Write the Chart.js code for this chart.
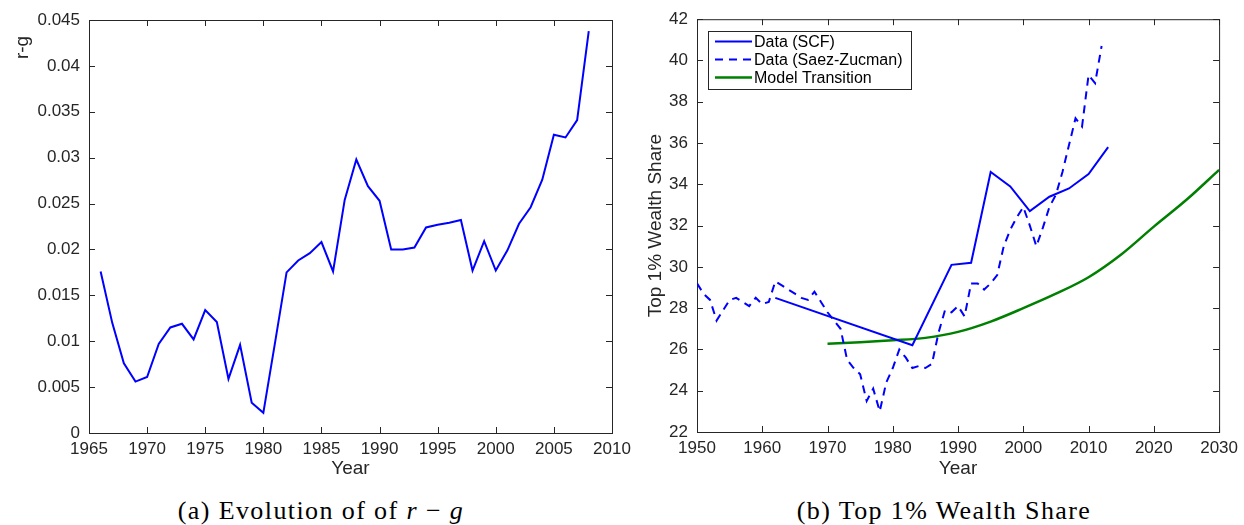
<!DOCTYPE html>
<html>
<head>
<meta charset="utf-8">
<script src="https://cdn.jsdelivr.net/npm/chart.js@4.4.1/dist/chart.umd.min.js"></script>
<style>
  body { margin: 0; background: #fff; width: 1244px; height: 525px; position: relative; overflow: hidden; }
  .panel { position: absolute; top: 0; height: 480px; }
  .caption { position: absolute; top: 496px; font-family: "Liberation Serif", serif; font-size: 26px;
             letter-spacing: 1.4px; color: #000; white-space: nowrap; transform: translateX(-50%); }
</style>
</head>
<body>
<div class="panel" style="left:0;width:640px"><canvas id="rgChart"></canvas></div>
<div class="panel" style="left:610px;width:634px"><canvas id="shareChart"></canvas></div>
<div class="caption" style="left:321px">(a) Evolution of of <i>r</i> &minus; <i>g</i></div>
<div class="caption" style="left:944px">(b) Top 1% Wealth Share</div>

<script>
// panel (a): r - g by year
const rgYears = [1966, 1967, 1968, 1969, 1970, 1971, 1972, 1973, 1974, 1975, 1976, 1977, 1978, 1979, 1980,
  1981, 1982, 1983, 1984, 1985, 1986, 1987, 1988, 1989, 1990, 1991, 1992, 1993, 1994, 1995, 1996, 1997,
  1998, 1999, 2000, 2001, 2002, 2003, 2004, 2005, 2006, 2007, 2008];
const rgValues = [0.0176, 0.0120, 0.0076, 0.0056, 0.0061, 0.0097, 0.0115, 0.0119, 0.0102, 0.0134, 0.0121,
  0.0059, 0.0096, 0.0033, 0.0022, 0.0098, 0.0175, 0.0188, 0.0196, 0.0208, 0.0176, 0.0254, 0.0298, 0.0269,
  0.0253, 0.0200, 0.0200, 0.0202, 0.0224, 0.0227, 0.0229, 0.0232, 0.0177, 0.0209, 0.0177, 0.0199, 0.0228,
  0.0246, 0.0276, 0.0325, 0.0322, 0.0341, 0.0438];

// panel (b): top 1% wealth share
const scfYears = [1962, 1983, 1989, 1992, 1995, 1998, 2001, 2004, 2007, 2010, 2013];
const scfValues = [28.5, 26.2, 30.1, 30.2, 34.6, 33.9, 32.7, 33.4, 33.8, 34.5, 35.8];

const szYears = [1950, 1951, 1952, 1953, 1954, 1955, 1956, 1957, 1958, 1959, 1960, 1961, 1962, 1963, 1964,
  1965, 1966, 1967, 1968, 1969, 1970, 1971, 1972, 1973, 1974, 1975, 1976, 1977, 1978, 1979, 1980, 1981,
  1982, 1983, 1984, 1985, 1986, 1987, 1988, 1989, 1990, 1991, 1992, 1993, 1994, 1995, 1996, 1997, 1998,
  1999, 2000, 2001, 2002, 2003, 2004, 2005, 2006, 2007, 2008, 2009, 2010, 2011, 2012];
const szValues = [29.2, 28.7, 28.4, 27.4, 27.9, 28.4, 28.5, 28.3, 28.1, 28.5, 28.2, 28.3, 29.3, 29.1, 28.9,
  28.7, 28.5, 28.4, 28.8, 28.3, 27.8, 27.4, 27.0, 25.5, 25.1, 24.8, 23.5, 24.1, 23.0, 24.4, 25.1, 26.0,
  25.6, 25.1, 25.2, 25.1, 25.3, 26.8, 27.9, 27.8, 28.1, 27.6, 29.2, 29.2, 28.9, 29.2, 29.6, 31.0, 31.8,
  32.4, 32.9, 32.0, 31.0, 31.9, 32.9, 33.5, 34.6, 35.9, 37.2, 36.8, 39.3, 38.9, 40.7];

const modelYears = [1970, 1975, 1980, 1985, 1990, 1995, 2000, 2005, 2010, 2015, 2020, 2025, 2030];
const modelValues = [26.28, 26.35, 26.44, 26.56, 26.85, 27.35, 28.0, 28.7, 29.5, 30.6, 31.95, 33.25, 34.7];

const axisColor = '#262626';
const tickFont = { family: '"Liberation Sans", Arial, sans-serif', size: 17 };
const titleFont = { family: '"Liberation Sans", Arial, sans-serif', size: 19 };

function toPoints(xs, ys) {
  return xs.map((x, i) => ({ x: x, y: ys[i] }));
}

// MATLAB style box with inward tick marks on all four sides
const matlabBox = {
  id: 'matlabBox',
  beforeDatasetsDraw(chart) {
    const { ctx, chartArea: a, scales: { x, y } } = chart;
    const len = 6;
    ctx.save();
    ctx.strokeStyle = axisColor;
    ctx.lineWidth = 1;
    ctx.strokeRect(a.left + 0.5, a.top + 0.5, a.right - a.left, a.bottom - a.top);
    ctx.beginPath();
    x.ticks.forEach(t => {
      const px = Math.round(x.getPixelForValue(t.value)) + 0.5;
      ctx.moveTo(px, a.bottom); ctx.lineTo(px, a.bottom - len);
      ctx.moveTo(px, a.top); ctx.lineTo(px, a.top + len);
    });
    y.ticks.forEach(t => {
      const py = Math.round(y.getPixelForValue(t.value)) + 0.5;
      ctx.moveTo(a.left, py); ctx.lineTo(a.left + len, py);
      ctx.moveTo(a.right, py); ctx.lineTo(a.right - len, py);
    });
    ctx.stroke();
    ctx.restore();
  }
};

// boxed legend in the upper left corner of panel (b)
const boxLegend = {
  id: 'boxLegend',
  afterDraw(chart) {
    const ctx = chart.ctx;
    const bx = 98, by = 31, bw = 203, bh = 58;
    ctx.save();
    ctx.fillStyle = '#fff';
    ctx.fillRect(bx, by, bw, bh);
    ctx.strokeStyle = axisColor;
    ctx.lineWidth = 1;
    ctx.strokeRect(bx + 0.5, by + 0.5, bw, bh);
    ctx.font = '16px "Liberation Sans", Arial, sans-serif';
    ctx.textBaseline = 'middle';
    chart.data.datasets.forEach((ds, i) => {
      const ry = by + 10.5 + i * 18;
      ctx.strokeStyle = ds.borderColor;
      ctx.lineWidth = ds.borderWidth;
      ctx.setLineDash(ds.borderDash || []);
      ctx.beginPath();
      ctx.moveTo(bx + 7, ry); ctx.lineTo(bx + 44, ry);
      ctx.stroke();
      ctx.setLineDash([]);
      ctx.fillStyle = '#000';
      ctx.fillText(ds.label, bx + 46, ry + 1);
    });
    ctx.restore();
  }
};

function fixWidth(w) { return scale => { scale.width = w; }; }
function fixHeight(h) { return scale => { scale.height = h; }; }

Chart.defaults.color = axisColor;
Chart.defaults.animation = false;

new Chart(document.getElementById('rgChart'), {
  type: 'line',
  data: {
    datasets: [{
      label: 'r-g',
      data: toPoints(rgYears, rgValues),
      borderColor: '#0000ff',
      borderWidth: 2,
      pointRadius: 0,
      tension: 0
    }]
  },
  options: {
    responsive: true,
    maintainAspectRatio: false,
    layout: { padding: { top: 20, right: 28, bottom: 0, left: 0 } },
    plugins: { legend: { display: false }, tooltip: { enabled: false } },
    scales: {
      x: {
        type: 'linear', min: 1965, max: 2010,
        afterFit: fixHeight(47),
        grid: { display: false, drawTicks: false },
        border: { display: false },
        ticks: { stepSize: 5, padding: 6, font: tickFont, color: axisColor, maxRotation: 0,
                 callback: v => String(v) },
        title: { display: true, text: 'Year', font: titleFont, color: axisColor, padding: { top: 0, bottom: 0 } }
      },
      y: {
        type: 'linear', min: 0, max: 0.045,
        afterFit: fixWidth(89),
        grid: { display: false, drawTicks: false },
        border: { display: false },
        ticks: { stepSize: 0.005, padding: 9, font: tickFont, color: axisColor,
                 callback: v => String(+v.toFixed(3)) },
        // trailing spaces push the label a little below the top of the axis, as in the original
        title: { display: true, text: 'r-g   ', align: 'end', font: titleFont, color: axisColor,
                 padding: { top: 11, bottom: 0 } }
      }
    }
  },
  plugins: [matlabBox]
});

new Chart(document.getElementById('shareChart'), {
  type: 'line',
  data: {
    datasets: [{
      label: 'Data (SCF)',
      data: toPoints(scfYears, scfValues),
      borderColor: '#0000ff',
      borderWidth: 2,
      pointRadius: 0,
      tension: 0
    }, {
      label: 'Data (Saez-Zucman)',
      data: toPoints(szYears, szValues),
      borderColor: '#0000ff',
      borderWidth: 2,
      borderDash: [8, 6],
      pointRadius: 0,
      tension: 0
    }, {
      label: 'Model Transition',
      data: toPoints(modelYears, modelValues),
      borderColor: '#008000',
      borderWidth: 2.5,
      pointRadius: 0,
      cubicInterpolationMode: 'monotone'
    }]
  },
  options: {
    responsive: true,
    maintainAspectRatio: false,
    layout: { padding: { top: 19, right: 22, bottom: 0, left: 0 } },
    plugins: { legend: { display: false }, tooltip: { enabled: false } },
    scales: {
      x: {
        type: 'linear', min: 1950, max: 2030,
        afterFit: fixHeight(48),
        grid: { display: false, drawTicks: false },
        border: { display: false },
        ticks: { stepSize: 10, padding: 6, font: tickFont, color: axisColor, maxRotation: 0,
                 callback: v => String(v) },
        title: { display: true, text: 'Year', font: titleFont, color: axisColor, padding: { top: 0, bottom: 0 } }
      },
      y: {
        type: 'linear', min: 22, max: 42,
        afterFit: fixWidth(87),
        grid: { display: false, drawTicks: false },
        border: { display: false },
        ticks: { stepSize: 2, padding: 9, font: tickFont, color: axisColor },
        title: { display: true, text: 'Top 1% Wealth Share', font: titleFont, color: axisColor,
                 padding: { top: 34, bottom: 0 } }
      }
    }
  },
  plugins: [matlabBox, boxLegend]
});
</script>
</body>
</html>
